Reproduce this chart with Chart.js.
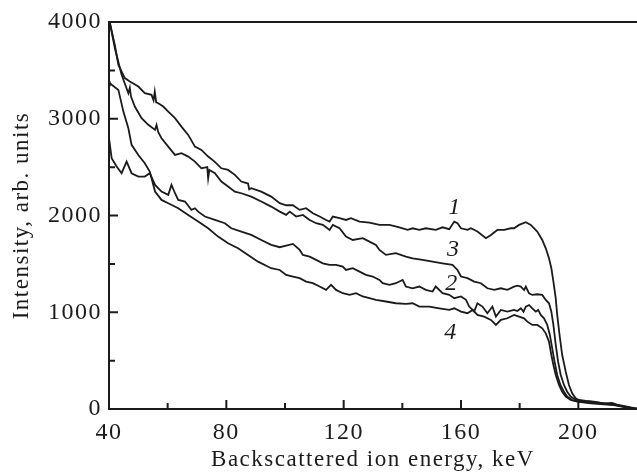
<!DOCTYPE html>
<html>
<head>
<meta charset="utf-8">
<script src="https://cdn.jsdelivr.net/npm/chart.js@4.4.1/dist/chart.umd.min.js"></script>
<style>
  html, body { margin: 0; padding: 0; background: #fff; }
  #wrap { width: 637px; height: 475px; position: relative; }
</style>
</head>
<body>
<div id="wrap"><canvas id="rbs"></canvas></div>
<script>
// spectra: [energy keV, intensity]
const curve1 = [[40,4000],[40.3,3990],[42,3760],[43.2,3557],[45.4,3420],[47.1,3385],[50,3333],[52.2,3264],[54.5,3247],[55.2,3190],[55.6,3280],[56.1,3170],[56.8,3161],[58.5,3126],[60.2,3074],[62.5,3006],[64.7,2919],[67,2833],[69.3,2712],[71.5,2678],[73.8,2609],[76,2557],[78.3,2488],[80.6,2471],[82.9,2420],[85.1,2351],[87.4,2330],[87.8,2270],[88.5,2282],[91.9,2247],[95.3,2195],[98.2,2127],[100.4,2106],[102.7,2106],[105,2058],[107.2,2075],[109.5,2023],[111.8,1989],[114,1954],[115.2,1937],[116.3,1989],[118.6,1972],[120.8,1954],[122.5,1972],[125.4,1937],[128.8,1927],[132.2,1903],[135.6,1903],[139,1878],[141.8,1851],[143.5,1868],[145.8,1851],[148,1868],[151.4,1851],[153.7,1878],[156,1858],[157.7,1937],[158.8,1920],[160,1868],[162.2,1851],[163.4,1868],[165.6,1834],[168.5,1765],[170.2,1799],[172.4,1851],[174.7,1851],[177,1868],[178.1,1868],[179.8,1903],[182.1,1930],[183.8,1903],[186,1834],[187.7,1747],[188.9,1661],[190,1558],[190.8,1455],[191.5,1317],[192.3,1144],[192.8,972],[193.6,765],[194.5,558],[195.7,386],[196.8,248],[197.9,162],[199.1,110],[200.2,93],[202.5,83],[205.3,76],[208.7,59],[211.5,62],[213.2,45],[216.6,24],[219.5,7],[220,5]];

const curve3 = [[40,4000],[40.3,3990],[42,3729],[44.3,3454],[46.6,3264],[47.1,3320],[47.5,3230],[48.8,3126],[51.1,3006],[53.4,2937],[55.7,2885],[56.2,2935],[56.8,2860],[57.9,2799],[60.2,2712],[62.5,2626],[64.7,2644],[67,2609],[69.3,2557],[71.5,2488],[73.5,2500],[73.8,2385],[74.2,2470],[76.1,2437],[78.3,2351],[80.6,2299],[82.9,2247],[85.1,2230],[88.5,2195],[91.9,2144],[95.3,2092],[98.2,2040],[100.4,2006],[101.6,2040],[103.8,1989],[106.1,2006],[108.4,1954],[110.6,1920],[112.9,1903],[115.2,1851],[116.3,1903],[118.6,1868],[120.8,1782],[123.1,1747],[126.5,1765],[128.8,1730],[131,1696],[132.2,1644],[134.4,1593],[137.8,1610],[141.2,1575],[143.5,1558],[146.9,1541],[150.3,1524],[153.7,1506],[157.1,1489],[158.8,1437],[160,1369],[162.2,1352],[164.5,1317],[166.8,1300],[169,1248],[171.3,1231],[173.6,1248],[175.8,1231],[178.1,1265],[179.2,1275],[180.4,1265],[181.5,1230],[182.1,1265],[183.2,1196],[184.3,1179],[186,1186],[187.7,1179],[188.9,1127],[190,1093],[190.8,1006],[191.5,869],[192.3,662],[193.1,489],[194,352],[195.1,248],[196.2,179],[197.4,128],[199.1,93],[200.8,83],[204.2,76],[208.7,59],[213.2,40],[216.6,20],[219.5,5],[220,3]];

const curve2 = [[40,2799],[40.9,2592],[42.6,2506],[44.3,2437],[46,2557],[47.7,2437],[50,2402],[52.2,2402],[53.9,2437],[55.7,2316],[57.9,2247],[60.2,2213],[61.3,2316],[62.5,2230],[63.6,2161],[65.9,2144],[68.1,2058],[69.3,2075],[70.4,2040],[72.7,1989],[76.1,1954],[79.5,1920],[81.7,1868],[85.1,1834],[88.5,1799],[91.9,1747],[95.3,1696],[98.2,1672],[100.4,1689],[102.7,1706],[105,1644],[106.1,1593],[108.4,1575],[110.6,1541],[112.9,1506],[115.2,1489],[117.4,1489],[119.7,1472],[120.8,1437],[123.1,1455],[125.4,1420],[127.6,1386],[129.9,1369],[132.2,1334],[133.3,1300],[135.6,1283],[137.8,1300],[140.1,1334],[141.2,1266],[143.5,1248],[145.8,1266],[148,1231],[150.3,1214],[151.4,1266],[153.7,1197],[156,1180],[157.7,1145],[160,1163],[161.7,1128],[162.8,1059],[164.5,1007],[165.6,1093],[167.3,1059],[169,990],[170.7,1059],[171.9,955],[173.6,1024],[175.8,1007],[178.1,1024],[179.2,1013],[180.4,1041],[181.3,1006],[182.1,1058],[183.2,1075],[184.3,1041],[185.5,1006],[186.3,1024],[187.2,972],[188.3,937],[189.4,869],[190.3,765],[191.1,627],[191.9,489],[192.8,352],[193.9,248],[195.1,179],[196.2,128],[197.9,93],[200.2,76],[204.2,66],[208.7,55],[212.1,45],[216.6,17],[219.5,3],[220,2]];

const curve4 = [[40,3385],[40.3,3367],[43.2,3298],[44.9,3074],[46.6,2902],[47.7,2730],[50,2626],[52.2,2540],[53.9,2454],[55.7,2247],[57.9,2161],[60.2,2127],[63.6,2075],[67,2006],[70.4,1937],[73.8,1868],[77.2,1782],[80.6,1713],[84,1661],[87.4,1592],[90.8,1523],[95.3,1455],[98.2,1437],[100.4,1386],[102.7,1369],[105,1352],[107.2,1317],[109.5,1300],[111.8,1266],[114,1231],[115.7,1283],[117.4,1231],[119.7,1197],[122,1180],[124.2,1197],[126.5,1163],[128.8,1145],[131,1128],[134.4,1111],[137.8,1093],[141.2,1086],[143.5,1093],[145.8,1059],[149.2,1059],[152.6,1041],[156,1024],[157.7,1041],[160,1007],[162.2,990],[164,1024],[165.6,972],[167.9,955],[170.2,921],[171.9,869],[173.6,921],[175.8,938],[178.1,972],[179.8,955],[181.5,937],[182.6,903],[184.3,869],[186,869],[187.7,834],[188.9,782],[190,696],[190.8,558],[191.5,455],[192.3,352],[193.4,248],[194.5,179],[195.7,128],[197.4,93],[199.6,76],[204.2,59],[208.7,48],[212.1,40],[216.6,15],[219.5,2],[220,0]];

const curveNames = ["1", "3", "2", "4"];
const namePos = [[157.7, 2078], [157.3, 1644], [156.7, 1293], [156.3, 786]];
const xLabels = [40, 80, 120, 160, 200];
const yLabels = [0, 1000, 2000, 3000, 4000];

const ink = "#1b1b1b";
Chart.defaults.font.family = "'Liberation Serif', 'Times New Roman', serif";
Chart.defaults.color = ink;

const toXY = (pts) => pts.map((p) => ({ x: p[0], y: p[1] }));
const line = (pts) => ({
  data: toXY(pts),
  borderColor: ink,
  borderWidth: 1.8,
  pointRadius: 0,
  tension: 0,
  fill: false,
});

// the scanned figure's lettering is a little wider than Times
const spacing = {
  id: "spacing",
  beforeLayout(chart) { chart.ctx.letterSpacing = "1.5px"; },
  beforeDraw(chart) { chart.ctx.letterSpacing = "1.5px"; },
};

// inner ticks, top frame line and curve numbers
const frame = {
  id: "frame",
  afterDraw(chart) {
    const ctx = chart.ctx;
    const a = chart.chartArea;
    const xs = chart.scales.x;
    const ys = chart.scales.y;
    ctx.save();
    ctx.letterSpacing = "0px";
    ctx.strokeStyle = ink;
    ctx.lineWidth = 2;
    ctx.beginPath();
    ctx.moveTo(a.left - 1, a.top);
    ctx.lineTo(a.right, a.top);
    xs.ticks.forEach((t) => {
      if (t.value <= xs.min || t.value >= xs.max) return;
      const px = xs.getPixelForValue(t.value);
      const len = t.label ? 9 : 6;
      ctx.moveTo(px, a.bottom);
      ctx.lineTo(px, a.bottom - len);
    });
    ys.ticks.forEach((t) => {
      if (t.value <= ys.min || t.value >= ys.max) return;
      const py = ys.getPixelForValue(t.value);
      const len = t.label ? 9 : 6;
      ctx.moveTo(a.left, py);
      ctx.lineTo(a.left + len, py);
    });
    ctx.stroke();

    ctx.font = "italic 24px 'Liberation Serif'";
    ctx.fillStyle = ink;
    ctx.textAlign = "center";
    ctx.textBaseline = "middle";
    curveNames.forEach((s, i) => {
      ctx.fillText(s, xs.getPixelForValue(namePos[i][0]), ys.getPixelForValue(namePos[i][1]));
    });
    ctx.restore();
  },
};

new Chart(document.getElementById("rbs"), {
  type: "line",
  data: {
    datasets: [line(curve1), line(curve3), line(curve2), line(curve4)],
  },
  options: {
    responsive: true,
    maintainAspectRatio: false,
    animation: false,
    layout: { padding: { top: 22, right: 0, bottom: 0, left: 0 } },
    plugins: { legend: { display: false }, tooltip: { enabled: false } },
    scales: {
      x: {
        type: "linear",
        min: 40,
        max: 220,
        afterFit: (s) => {
          s.height = 66;
          s.paddingLeft = 0;
          s.paddingRight = 0;
        },
        grid: { display: false, drawTicks: false },
        border: { display: true, color: ink, width: 2 },
        ticks: {
          stepSize: 20,
          autoSkip: false,
          maxRotation: 0,
          padding: 9,
          font: { size: 24 },
          callback: (v) => (xLabels.includes(v) ? String(v) : ""),
        },
        title: {
          display: true,
          text: "Backscattered ion energy, keV",
          font: { size: 23 },
          padding: { top: 0, bottom: 1 },
        },
      },
      y: {
        min: 0,
        max: 4000,
        afterFit: (s) => { s.width = 109; },
        grid: { display: false, drawTicks: false },
        border: { display: true, color: ink, width: 2 },
        ticks: {
          stepSize: 500,
          autoSkip: false,
          padding: 7,
          font: { size: 24 },
          callback: (v) => (yLabels.includes(v) ? String(v) : ""),
        },
        title: {
          display: true,
          text: "Intensity, arb. units",
          font: { size: 23 },
          padding: { top: 8, bottom: 0 },
        },
      },
    },
  },
  plugins: [spacing, frame],
});
</script>
</body>
</html>
